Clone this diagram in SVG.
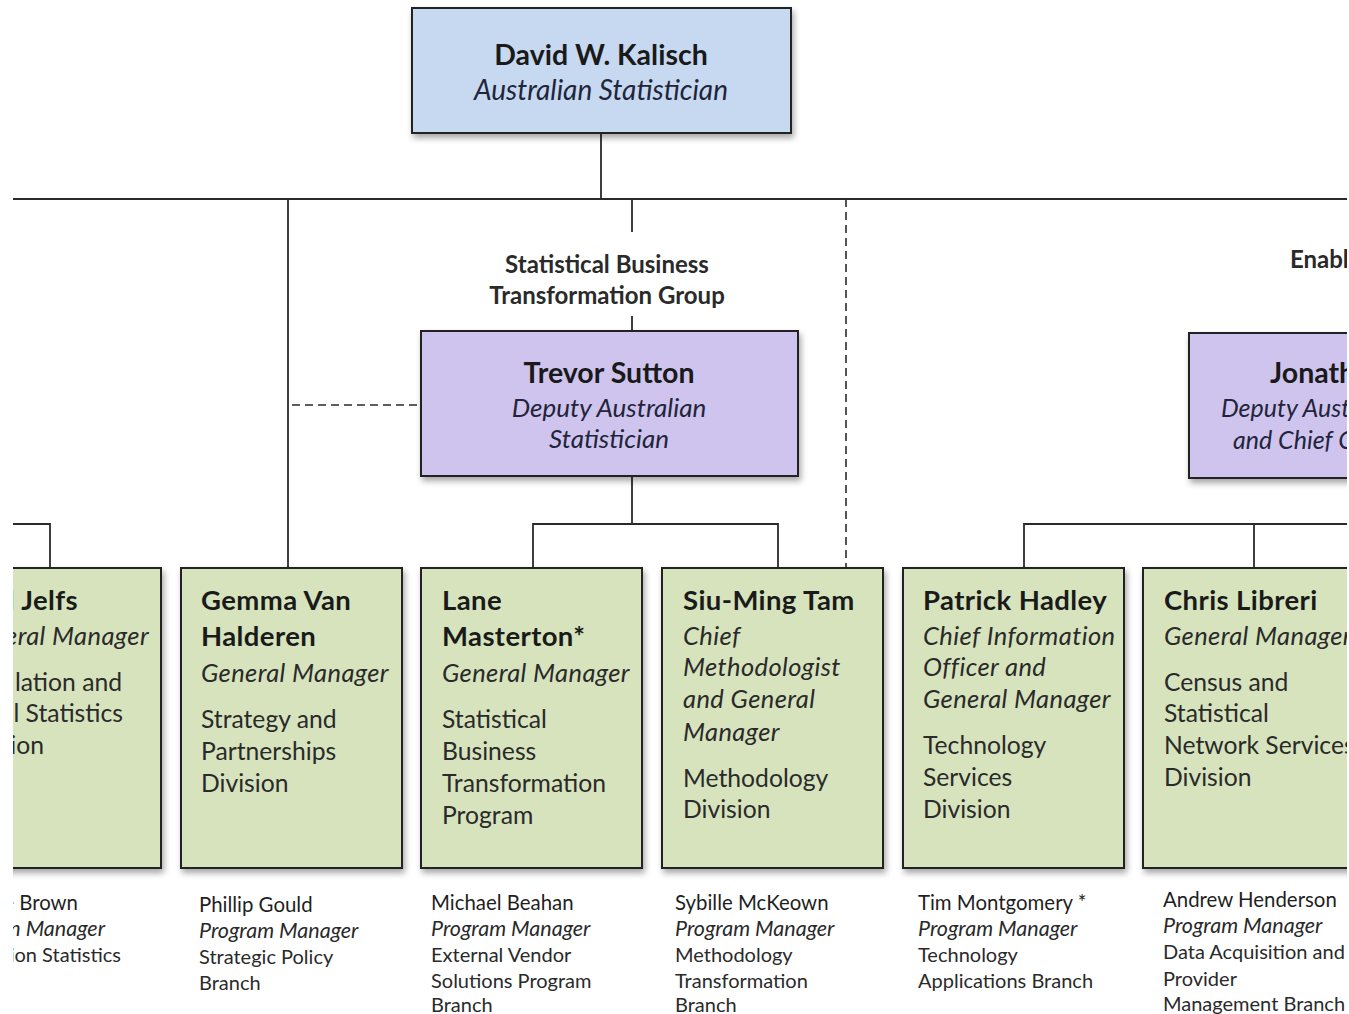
<svg xmlns="http://www.w3.org/2000/svg" width="1349" height="1014" viewBox="0 0 1349 1014">
<defs>
<style>
.box{stroke:#222;stroke-width:2}
.blue{fill:#c6d9f1}
.purple{fill:#cfc4ee}
.green{fill:#d6e3bd}
.ln{stroke:#2a2a2a;stroke-width:1.8;fill:none}
.dash{stroke:#2a2a2a;stroke-width:1.6;fill:none;stroke-dasharray:8 5}
text{font-family:Lato,"Open Sans","Liberation Sans",sans-serif;fill:#1a1a1a}
.nm{font-size:27.5px;font-weight:bold;letter-spacing:0.4px}
.rl{font-size:25.5px;font-style:italic;fill:#2a2a2a;letter-spacing:0.4px}
.dv{font-size:24.7px;fill:#2a2a2a}
.hd{font-size:28.5px;font-weight:bold}
.hr{font-size:28px;font-style:italic;fill:#22253a}
.hr2{font-size:26px;font-style:italic;fill:#22253a}
.hr3{font-size:25px;font-style:italic;fill:#22253a}
.grp{font-size:24px;font-weight:bold;fill:#2a2a2a}
.bn{font-size:20.4px;fill:#1f1f1f}
.br{font-size:21.5px;font-style:italic;fill:#2a2a2a}
.bd{font-size:20px;fill:#2a2a2a}
.c{text-anchor:middle}
.e{text-anchor:end}
</style>
<filter id="sh" x="-10%" y="-10%" width="125%" height="130%">
<feDropShadow dx="2" dy="4" stdDeviation="3" flood-color="#000" flood-opacity="0.35"/>
</filter>
<clipPath id="clip"><rect x="13" y="0" width="1334" height="1014"/></clipPath>
</defs>
<rect width="1349" height="1014" fill="#fff"/>
<g clip-path="url(#clip)">
<g id="connectors">
<path class="ln" d="M601 133V199M13 199H1349M288 199V568M632 199V232M632 316V331M632 476V524M533 568V524H778V568M13 524H50V568M1024 568V524H1349M1254 524V568"/>
<path class="dash" d="M846 199V568M292 405H421"/>
</g>
<g id="label-sbtg">
<text class="grp c" x="607" y="273">Statistical Business</text>
<text class="grp c" x="607" y="304">Transformation Group</text>
</g>
<g id="label-enabling">
<text class="grp" x="1290" y="268">Enabl</text>
</g>
<g id="node-kalisch">
<rect class="box blue" x="412" y="8" width="379" height="125" filter="url(#sh)"/>
<text class="hd c" x="601" y="65">David W. Kalisch</text>
<text class="hr c" x="601" y="100">Australian Statistician</text>
</g>
<g id="node-sutton">
<rect class="box purple" x="421" y="331" width="377" height="145" filter="url(#sh)"/>
<text class="hd c" x="609" y="383">Trevor Sutton</text>
<text class="hr2 c" x="609" y="417">Deputy Australian</text>
<text class="hr2 c" x="609" y="448">Statistician</text>
</g>
<g id="node-jonathan">
<rect class="box purple" x="1189" y="333" width="377" height="145" filter="url(#sh)"/>
<text class="hd" x="1270" y="383">Jonath</text>
<text class="hr3" x="1221" y="417">Deputy Aust</text>
<text class="hr3" x="1233" y="449">and Chief C</text>
</g>
<g id="node-jelfs">
<rect class="box green" x="-60" y="568" width="221" height="300" filter="url(#sh)"/>
<text class="nm e" x="78" y="610">l Jelfs</text>
<text class="rl e" x="149" y="645">eral Manager</text>
<text class="dv e" x="122" y="691">lation and</text>
<text class="dv e" x="123" y="722">l Statistics</text>
<text class="dv e" x="44" y="754">ion</text>
</g>
<g id="node-vanhalderen">
<rect class="box green" x="181" y="568" width="221" height="300" filter="url(#sh)"/>
<text class="nm" x="201" y="610">Gemma Van</text>
<text class="nm" x="201" y="646">Halderen</text>
<text class="rl" x="201" y="682">General Manager</text>
<text class="dv" x="201" y="728">Strategy and</text>
<text class="dv" x="201" y="760">Partnerships</text>
<text class="dv" x="201" y="792">Division</text>
</g>
<g id="node-masterton">
<rect class="box green" x="421" y="568" width="221" height="300" filter="url(#sh)"/>
<text class="nm" x="442" y="610">Lane</text>
<text class="nm" x="442" y="646">Masterton*</text>
<text class="rl" x="442" y="682">General Manager</text>
<text class="dv" x="442" y="728">Statistical</text>
<text class="dv" x="442" y="760">Business</text>
<text class="dv" x="442" y="792">Transformation</text>
<text class="dv" x="442" y="824">Program</text>
</g>
<g id="node-tam">
<rect class="box green" x="662" y="568" width="221" height="300" filter="url(#sh)"/>
<text class="nm" x="683" y="610">Siu-Ming Tam</text>
<text class="rl" x="683" y="645">Chief</text>
<text class="rl" x="683" y="676">Methodologist</text>
<text class="rl" x="683" y="708">and General</text>
<text class="rl" x="683" y="741">Manager</text>
<text class="dv" x="683" y="787">Methodology</text>
<text class="dv" x="683" y="818">Division</text>
</g>
<g id="node-hadley">
<rect class="box green" x="903" y="568" width="221" height="300" filter="url(#sh)"/>
<text class="nm" x="923" y="610">Patrick Hadley</text>
<text class="rl" x="923" y="645">Chief Information</text>
<text class="rl" x="923" y="676">Officer and</text>
<text class="rl" x="923" y="708">General Manager</text>
<text class="dv" x="923" y="754">Technology</text>
<text class="dv" x="923" y="786">Services</text>
<text class="dv" x="923" y="818">Division</text>
</g>
<g id="node-libreri">
<rect class="box green" x="1143" y="568" width="221" height="300" filter="url(#sh)"/>
<text class="nm" x="1164" y="610">Chris Libreri</text>
<text class="rl" x="1164" y="645">General Manager</text>
<text class="dv" x="1164" y="691">Census and</text>
<text class="dv" x="1164" y="722">Statistical</text>
<text class="dv" x="1164" y="754">Network Services</text>
<text class="dv" x="1164" y="786">Division</text>
</g>
<g id="branch-brown">
<text class="bn e" x="78" y="910">e Brown</text>
<text class="br e" x="105" y="936">n Manager</text>
<text class="bd e" x="121" y="962">ion Statistics</text>
</g>
<g id="branch-gould">
<text class="bn" x="199" y="912">Phillip Gould</text>
<text class="br" x="199" y="938">Program Manager</text>
<text class="bd" x="199" y="964">Strategic Policy</text>
<text class="bd" x="199" y="990">Branch</text>
</g>
<g id="branch-beahan">
<text class="bn" x="431" y="910">Michael Beahan</text>
<text class="br" x="431" y="936">Program Manager</text>
<text class="bd" x="431" y="962">External Vendor</text>
<text class="bd" x="431" y="988">Solutions Program</text>
<text class="bd" x="431" y="1012">Branch</text>
</g>
<g id="branch-mckeown">
<text class="bn" x="675" y="910">Sybille McKeown</text>
<text class="br" x="675" y="936">Program Manager</text>
<text class="bd" x="675" y="962">Methodology</text>
<text class="bd" x="675" y="988">Transformation</text>
<text class="bd" x="675" y="1012">Branch</text>
</g>
<g id="branch-montgomery">
<text class="bn" x="918" y="910">Tim Montgomery *</text>
<text class="br" x="918" y="936">Program Manager</text>
<text class="bd" x="918" y="962">Technology</text>
<text class="bd" x="918" y="988">Applications Branch</text>
</g>
<g id="branch-henderson">
<text class="bn" x="1163" y="907">Andrew Henderson</text>
<text class="br" x="1163" y="933">Program Manager</text>
<text class="bd" x="1163" y="959">Data Acquisition and</text>
<text class="bd" x="1163" y="986">Provider</text>
<text class="bd" x="1163" y="1011">Management Branch</text>
</g>
</g>
</svg>
